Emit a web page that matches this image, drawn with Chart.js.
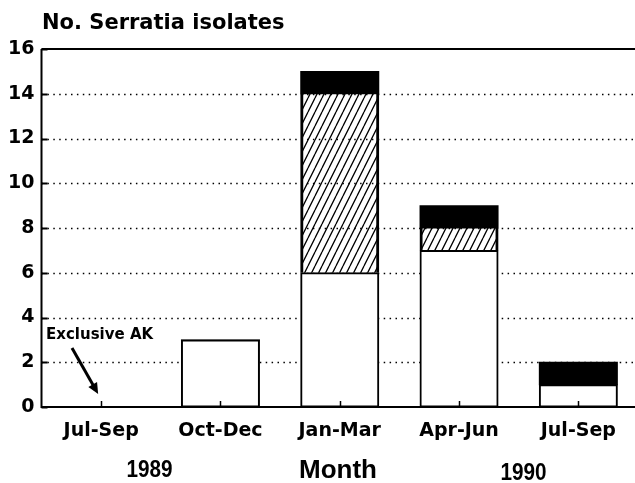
<!DOCTYPE html>
<html>
<head>
<meta charset="utf-8">
<script src="https://cdn.jsdelivr.net/npm/chart.js@4"></script>
<style>
  html, body { margin: 0; padding: 0; background: #fff; overflow: hidden; }
  #wrap { width: 640px; height: 483px; }
</style>
</head>
<body>
<div id="wrap"><canvas id="serratiaChart" width="640" height="483"></canvas></div>
<script>
const months = ["Jul-Sep", "Oct-Dec", "Jan-Mar", "Apr-Jun", "Jul-Sep"];
const openBars = [0, 3, 6, 7, 1];
const hatchedBars = [0, 0, 8, 1, 0];
const solidBars = [0, 0, 1, 1, 1];
const yTicks = [0, 2, 4, 6, 8, 10, 12, 14, 16];

const bold = "DejaVu Sans";
const helv = "Liberation Sans";

// diagonal hatch fill
function hatch() {
  const c = document.createElement("canvas");
  c.width = 7; c.height = 14;
  const g = c.getContext("2d");
  g.strokeStyle = "#000";
  g.lineWidth = 1.3;
  g.beginPath();
  for (let k = -1; k <= 1; k++) {
    g.moveTo(k * 7, 14);
    g.lineTo(k * 7 + 7, 0);
  }
  g.stroke();
  return g.createPattern(c, "repeat");
}

const extras = {
  id: "extras",
  beforeDatasetsDraw(chart) {
    const { ctx, chartArea: a, scales: { y } } = chart;
    ctx.save();
    ctx.strokeStyle = "#000";
    ctx.lineWidth = 1.5;
    ctx.setLineDash([1.5, 4.4]);
    yTicks.slice(1, -1).forEach(v => {
      const py = Math.round(y.getPixelForValue(v)) + 0.5;
      ctx.beginPath();
      ctx.moveTo(a.left, py);
      ctx.lineTo(a.right, py);
      ctx.stroke();
    });
    ctx.setLineDash([]);
    // top frame line
    ctx.lineWidth = 2;
    ctx.beginPath();
    ctx.moveTo(a.left, a.top);
    ctx.lineTo(a.right, a.top);
    ctx.stroke();
    // inner y tick marks
    yTicks.forEach(v => {
      const py = Math.round(y.getPixelForValue(v)) + 0.5;
      ctx.beginPath();
      ctx.moveTo(a.left, py);
      ctx.lineTo(a.left + 6, py);
      ctx.stroke();
    });
    ctx.restore();
  },
  afterDraw(chart) {
    const { ctx, chartArea: a, scales: { x, y } } = chart;
    ctx.save();
    ctx.strokeStyle = "#000";
    ctx.fillStyle = "#000";
    // axes
    ctx.lineWidth = 2;
    ctx.beginPath();
    ctx.moveTo(a.left, a.top);
    ctx.lineTo(a.left, a.bottom);
    ctx.lineTo(a.right, a.bottom);
    ctx.stroke();
    // inner x tick marks
    ctx.lineWidth = 1.5;
    months.forEach((m, i) => {
      const px = Math.round(x.getPixelForValue(i)) + 0.5;
      ctx.beginPath();
      ctx.moveTo(px, a.bottom);
      ctx.lineTo(px, a.bottom - 6);
      ctx.stroke();
    });

    // title
    ctx.textBaseline = "alphabetic";
    ctx.textAlign = "left";
    ctx.font = "bold 21px '" + bold + "'";
    ctx.fillText("No. Serratia isolates", 42, 29);

    // axis title and years
    ctx.textAlign = "center";
    ctx.font = "bold 26px '" + helv + "'";
    ctx.fillText("Month", 338, 478);
    ctx.font = "bold 23px '" + helv + "'";
    [["1989", 149.5, 476.5], ["1990", 523.5, 480]].forEach(([t, tx, ty]) => {
      ctx.save();
      ctx.translate(tx, ty);
      ctx.scale(0.9, 1);
      ctx.fillText(t, 0, 0);
      ctx.restore();
    });

    // annotation
    ctx.textAlign = "left";
    ctx.font = "bold 15px '" + bold + "'";
    ctx.fillText("Exclusive AK", 46, 339);
    const ex = x.getPixelForValue(0) - 3, ey = y.getPixelForValue(0) - 13;
    const sx = 72, sy = 348;
    const ang = Math.atan2(ey - sy, ex - sx);
    ctx.lineWidth = 3;
    ctx.beginPath();
    ctx.moveTo(sx, sy);
    ctx.lineTo(ex - 6 * Math.cos(ang), ey - 6 * Math.sin(ang));
    ctx.stroke();
    ctx.beginPath();
    ctx.moveTo(ex, ey);
    ctx.lineTo(ex - 11 * Math.cos(ang) + 5 * Math.sin(ang), ey - 11 * Math.sin(ang) - 5 * Math.cos(ang));
    ctx.lineTo(ex - 11 * Math.cos(ang) - 5 * Math.sin(ang), ey - 11 * Math.sin(ang) + 5 * Math.cos(ang));
    ctx.closePath();
    ctx.fill();
    ctx.restore();
  }
};

const barStyle = { borderColor: "#000", borderSkipped: false, barPercentage: 0.654, categoryPercentage: 1, inflateAmount: 0.5 };

new Chart(document.getElementById("serratiaChart"), {
  type: "bar",
  data: {
    labels: months,
    datasets: [
      { label: "open", data: openBars, backgroundColor: "#fff", borderWidth: 2, ...barStyle },
      { label: "hatched", data: hatchedBars, backgroundColor: hatch(),
        borderWidth: { left: 2, right: 2, top: 0, bottom: 0 }, ...barStyle },
      { label: "solid", data: solidBars, backgroundColor: "#000", borderWidth: 0, ...barStyle }
    ]
  },
  options: {
    responsive: false,
    animation: false,
    layout: { padding: { top: 49, right: 2, left: 0, bottom: 0 } },
    plugins: { legend: { display: false }, tooltip: { enabled: false } },
    scales: {
      x: {
        stacked: true,
        grid: { display: false },
        border: { display: false },
        ticks: { color: "#000", padding: 5, font: { family: bold, size: 19, weight: "bold" } },
        afterFit(s) { s.height = 76; }
      },
      y: {
        stacked: true,
        min: 0, max: 16,
        grid: { display: false, drawTicks: false },
        border: { display: false },
        ticks: { stepSize: 2, color: "#000", padding: 7, font: { family: bold, size: 19, weight: "bold" } },
        afterFit(s) { s.width = 41.5; }
      }
    }
  },
  plugins: [extras]
});
</script>
</body>
</html>
